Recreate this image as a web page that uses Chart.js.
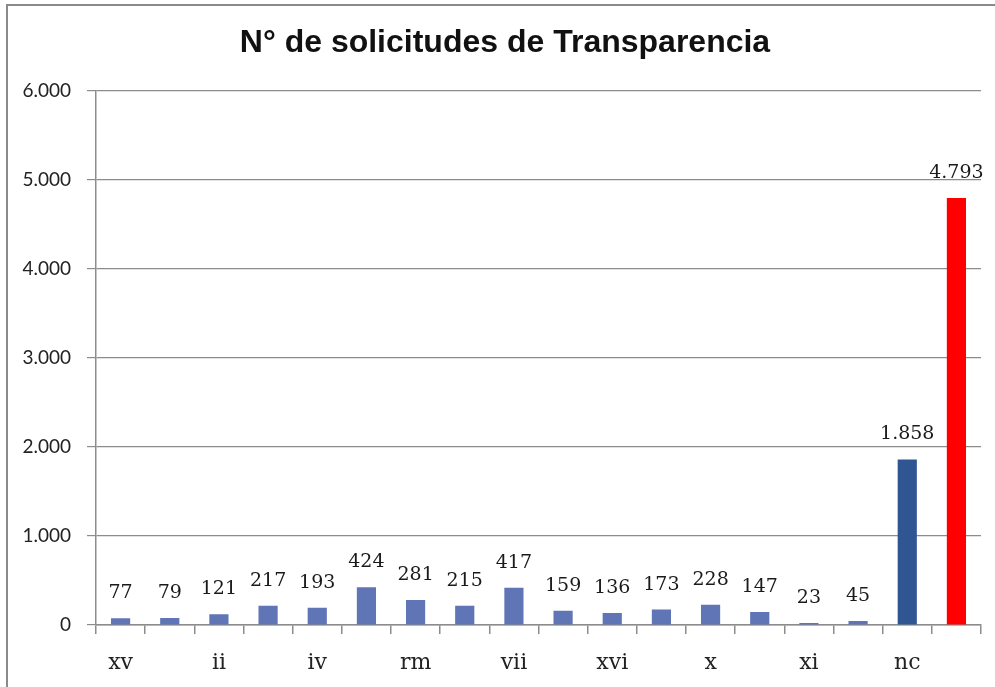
<!DOCTYPE html>
<html>
<head>
<meta charset="utf-8">
<script src="https://cdn.jsdelivr.net/npm/chart.js@4/dist/chart.umd.min.js"></script>
<style>
  html, body { margin: 0; padding: 0; background: #ffffff; }
  #wrap { position: relative; width: 995px; height: 687px; overflow: hidden; }
  #frame { position: absolute; left: 6px; top: 4px; width: 1000px; height: 700px;
           border-left: 2px solid #8a8a8a; border-top: 2px solid #8a8a8a; box-sizing: border-box; }
  canvas { position: absolute; left: 0; top: 0; }
</style>
</head>
<body>
<div id="wrap">
  <div id="frame"></div>
  <canvas id="c" width="1010" height="687"></canvas>
</div>
<script>
const categories = ['xv','i','ii','iii','iv','v','rm','vi','vii','viii','xvi','ix','x','xiv','xi','xii','nc','total'];
const solicitudes = [77, 79, 121, 217, 193, 424, 281, 215, 417, 159, 136, 173, 228, 147, 23, 45, 1858, 4793];
const barColors = ['#5f75b6','#5f75b6','#5f75b6','#5f75b6','#5f75b6','#5f75b6','#5f75b6','#5f75b6','#5f75b6',
                   '#5f75b6','#5f75b6','#5f75b6','#5f75b6','#5f75b6','#5f75b6','#5f75b6','#2f5693','#ff0000'];
const yTicks = [0, 1000, 2000, 3000, 4000, 5000, 6000];
const titleText = 'N° de solicitudes de Transparencia';

function fmt(v) {
  return String(Math.round(v)).replace(/\B(?=(\d{3})+(?!\d))/g, '.');
}

const valueLabels = {
  id: 'valueLabels',
  afterDatasetsDraw(chart) {
    const ctx = chart.ctx;
    const meta = chart.getDatasetMeta(0);
    ctx.save();
    ctx.font = '19px "DejaVu Serif"';
    ctx.fillStyle = '#1a1a1a';
    ctx.textAlign = 'center';
    ctx.textBaseline = 'middle';
    meta.data.forEach((bar, i) => {
      ctx.fillText(fmt(solicitudes[i]), bar.x, bar.y - 25);
    });
    ctx.restore();
  }
};

new Chart(document.getElementById('c'), {
  type: 'bar',
  data: {
    labels: categories,
    datasets: [{
      data: solicitudes,
      backgroundColor: barColors,
      borderWidth: 0,
      barPercentage: 0.39,
      categoryPercentage: 1.0
    }]
  },
  options: {
    responsive: false,
    animation: false,
    devicePixelRatio: 1,
    layout: { padding: { left: 0, right: 0, top: 0, bottom: 0 } },
    plugins: {
      legend: { display: false },
      tooltip: { enabled: false },
      title: {
        display: true,
        text: titleText,
        color: '#111111',
        font: { family: '"Liberation Sans", Arial, sans-serif', size: 32, weight: 'bold' },
        padding: { top: 24, bottom: 28 }
      }
    },
    scales: {
      x: {
        offset: true,
        grid: { offset: true, drawOnChartArea: false, drawTicks: true, tickLength: 9, color: '#8c8c8c', lineWidth: 1.5 },
        border: { color: '#8c8c8c', width: 1.5 },
        ticks: {
          autoSkip: false,
          maxRotation: 0,
          padding: 16,
          color: '#222222',
          font: { family: '"DejaVu Serif", serif', size: 22 },
          callback: function(value, index) { return index % 2 === 0 ? categories[index] : ''; }
        },
        afterFit(scale) { scale.height = 62; }
      },
      y: {
        min: 0,
        max: 6000,
        afterBuildTicks(scale) { scale.ticks = yTicks.map(v => ({ value: v })); },
        grid: { color: '#8c8c8c', lineWidth: 1.2, tickLength: 9, drawTicks: true },
        border: { color: '#8c8c8c', width: 1.5 },
        ticks: {
          padding: 16,
          color: '#222222',
          font: { family: 'Lato, "Liberation Sans", sans-serif', size: 19 },
          callback: function(v) { return fmt(v); }
        },
        afterFit(scale) { scale.width = 96; }
      },
      ySpacer: {
        position: 'right',
        min: 0,
        max: 6000,
        grid: { display: false, drawOnChartArea: false, drawTicks: false },
        border: { display: false },
        ticks: { display: false },
        afterFit(scale) { scale.width = 29; }
      }
    }
  },
  plugins: [valueLabels]
});
</script>
</body>
</html>
